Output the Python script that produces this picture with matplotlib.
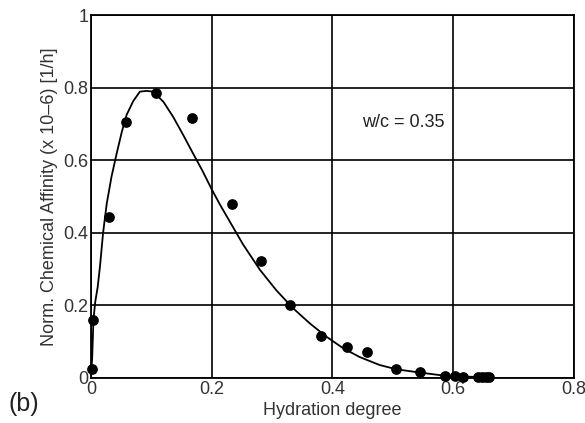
import matplotlib
matplotlib.use("Agg")
import matplotlib.pyplot as plt

plt.rcParams['font.family'] = ['Liberation Sans', 'DejaVu Sans']

# measured data points
x_pts = [0.001, 0.004, 0.030, 0.058, 0.108, 0.167, 0.234, 0.281, 0.330, 0.382,
         0.424, 0.458, 0.505, 0.546, 0.587, 0.603, 0.616, 0.642, 0.648, 0.654, 0.660]
y_pts = [0.025, 0.160, 0.444, 0.704, 0.784, 0.715, 0.479, 0.322, 0.201, 0.116,
         0.086, 0.071, 0.024, 0.017, 0.006, 0.005, 0.004, 0.002, 0.002, 0.002, 0.002]

# model curve
x_curve = [0.000, 0.002, 0.004, 0.007, 0.011, 0.015, 0.020, 0.026, 0.034, 0.042, 0.051,
           0.059, 0.070, 0.081, 0.092, 0.103, 0.120, 0.136, 0.153, 0.169, 0.185,
           0.200, 0.214, 0.230, 0.252, 0.280, 0.307, 0.335, 0.363, 0.390, 0.418,
           0.445, 0.478, 0.506, 0.545, 0.578, 0.617, 0.660]
y_curve = [0.000, 0.060, 0.160, 0.210, 0.250, 0.310, 0.400, 0.480, 0.555, 0.615, 0.678,
           0.725, 0.763, 0.789, 0.791, 0.789, 0.761, 0.720, 0.669, 0.619, 0.570,
           0.520, 0.477, 0.431, 0.368, 0.298, 0.242, 0.192, 0.150, 0.114, 0.082,
           0.058, 0.036, 0.024, 0.015, 0.008, 0.004, 0.002]

x_ticks = [0, 0.2, 0.4, 0.6, 0.8]
y_ticks = [0, 0.2, 0.4, 0.6, 0.8, 1]
x_ticklabels = ['0', '0.2', '0.4', '0.6', '0.8']
y_ticklabels = ['0', '0.2', '0.4', '0.6', '0.8', '1']

fig = plt.figure(figsize=(5.85, 4.23), dpi=100)
ax = fig.add_axes([0.1556, 0.1064, 0.825, 0.858])

ax.plot(x_curve, y_curve, color='black', lw=1.3, zorder=3)
ax.plot(x_pts, y_pts, 'o', color='black', ms=6.7, zorder=4, clip_on=False)

ax.set_xlim(0, 0.8)
ax.set_ylim(0, 1)
ax.set_xticks(x_ticks)
ax.set_xticklabels(x_ticklabels)
ax.set_yticks(y_ticks)
ax.set_yticklabels(y_ticklabels)
ax.tick_params(length=0, labelsize=13, colors='#333333', pad=2)
ax.grid(True, color='black', lw=1.2)
for s in ax.spines.values():
    s.set_linewidth(1.3)

ax.set_xlabel('Hydration degree', fontsize=13, color='#333333', labelpad=3)
ax.set_ylabel('Norm. Chemical Affinity (x 10\u20136) [1/h]', fontsize=13, color='#333333', labelpad=4)
ax.text(0.45, 0.705, 'w/c = 0.35', fontsize=13, color='#222222', va='center', ha='left')
fig.text(0.015, 0.045, '(b)', fontsize=18, color='#222222', va='center', ha='left')

fig.savefig('out.png', dpi=100)
